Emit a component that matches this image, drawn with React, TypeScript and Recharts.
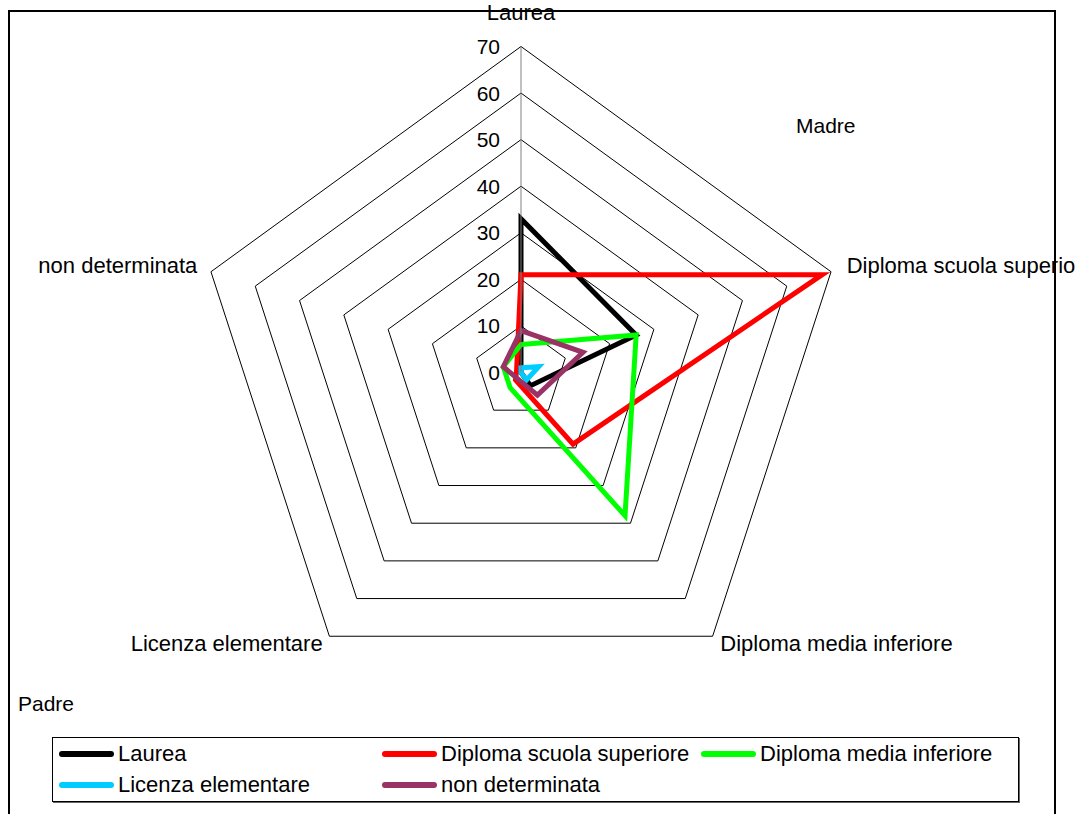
import { RadarChart, Radar, PolarGrid, PolarAngleAxis, PolarRadiusAxis, Legend } from "recharts";

const categories = [
  "Laurea",
  "Diploma scuola superiore",
  "Diploma media inferiore",
  "Licenza elementare",
  "non determinata",
];

// one series per education level (same labels as the axes)
const laurea = [33, 26, 3.5, 0, 0];
const diplomaSuperiore = [21, 68, 19, 2, 1];
const diplomaMedia = [6, 26, 38, 4, 4];
const licenza = [1, 4, 2, 0, 0];
const nonDeterminata = [9, 14, 6, 1.5, 4];

const radiusTicks = [0, 10, 20, 30, 40, 50, 60, 70];

const series = [
  { key: "laurea", name: "Laurea", values: laurea, color: "#000000" },
  { key: "superiore", name: "Diploma scuola superiore", values: diplomaSuperiore, color: "#FF0000" },
  { key: "media", name: "Diploma media inferiore", values: diplomaMedia, color: "#00FF00" },
  { key: "licenza", name: "Licenza elementare", values: licenza, color: "#00CCFF" },
  { key: "nondet", name: "non determinata", values: nonDeterminata, color: "#993366" },
];

const data = categories.map((cat, i) => {
  const row: Record<string, string | number> = { cat };
  series.forEach((s) => (row[s.key] = s.values[i]));
  return row;
});

const CX = 521;
const CY = 372.5;
const FONT = "'Liberation Sans', Arial, sans-serif";

function AngleTick(props: any) {
  const { x, y, payload } = props;
  const dx = x - CX;
  const dy = y - CY;
  let tx = x;
  let ty = y;
  let anchor: "start" | "middle" | "end" = "middle";
  if (Math.abs(dx) < 5) {
    ty = y - 26;
  } else if (dy < 0) {
    anchor = dx > 0 ? "start" : "end";
    tx = x + (dx > 0 ? 8 : -6);
    ty = y - 4;
  } else {
    anchor = dx > 0 ? "start" : "end";
    tx = x + (dx > 0 ? 3 : -2);
    ty = y + 1;
  }
  return (
    <text x={tx} y={ty} textAnchor={anchor} dominantBaseline="central" fontSize={22} fill="#000" fontFamily={FONT}>
      {payload.value}
    </text>
  );
}

function RadiusTick(props: any) {
  const { x, y, payload } = props;
  return (
    <text x={x - 21} y={y} textAnchor="end" dominantBaseline="central" fontSize={21} fill="#000" fontFamily={FONT}>
      {payload.value}
    </text>
  );
}

function LegendBox() {
  const rows = [series.slice(0, 3), series.slice(3)];
  const colLeft = [6, 329, 648];
  return (
    <div
      style={{
        width: 967,
        height: 65,
        border: "1px solid #000",
        boxShadow: "1px 1px 0 #666",
        background: "#fff",
        position: "relative",
        fontFamily: FONT,
        fontSize: 22,
        boxSizing: "border-box",
      }}
    >
      {rows.map((row, r) =>
        row.map((s, c) => (
          <div
            key={s.key}
            style={{ position: "absolute", left: colLeft[c], top: 3 + r * 31, display: "flex", alignItems: "center", height: 26 }}
          >
            <span style={{ display: "inline-block", width: 55, height: 6, borderRadius: 3, background: s.color, marginRight: 4 }} />
            <span>{s.name}</span>
          </div>
        ))
      )}
    </div>
  );
}

export default function App() {
  return (
    <div style={{ position: "absolute", left: 0, top: 0, width: 1076, height: 814, overflow: "hidden", background: "#fff" }}>
      <div
        style={{
          position: "absolute",
          left: 8,
          top: 10,
          width: 1048,
          height: 820,
          border: "2px solid #000",
          boxSizing: "border-box",
        }}
      />
      <RadarChart
        width={1076}
        height={814}
        data={data}
        cx={CX}
        cy={CY}
        outerRadius={326}
        margin={{ top: 0, right: 0, bottom: 0, left: 0 }}
        style={{ position: "absolute", left: 0, top: 0 }}
      >
        <PolarGrid gridType="polygon" radialLines={false} stroke="#000" strokeWidth={1} />
        <PolarAngleAxis dataKey="cat" tick={<AngleTick />} tickLine={false} axisLine={false} />
        <PolarRadiusAxis
          angle={90}
          domain={[0, 70]}
          ticks={radiusTicks}
          tick={<RadiusTick />}
          tickLine={false}
          axisLine={{ stroke: "#808080", strokeWidth: 1 }}
        />
        {series.map((s) => (
          <Radar
            key={s.key}
            name={s.name}
            dataKey={s.key}
            stroke={s.color}
            strokeWidth={5}
            fill="none"
            fillOpacity={0}
            dot={false}
            isAnimationActive={false}
          />
        ))}
        <Legend content={<LegendBox />} wrapperStyle={{ position: "absolute", left: 52, top: 737, width: 967 }} />
      </RadarChart>
      <div style={{ position: "absolute", left: 796, top: 114, fontFamily: FONT, fontSize: 21 }}>Madre</div>
      <div style={{ position: "absolute", left: 18, top: 692, fontFamily: FONT, fontSize: 21 }}>Padre</div>
    </div>
  );
}
